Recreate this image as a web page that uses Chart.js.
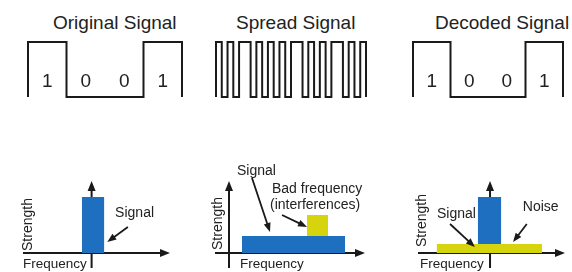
<!DOCTYPE html>
<html>
<head>
<meta charset="utf-8">
<script src="https://cdn.jsdelivr.net/npm/chart.js@4.4.1/dist/chart.umd.min.js"></script>
<style>
  body { margin: 0; width: 572px; height: 272px; background: #fff; position: relative; overflow: hidden;
         font-family: "Liberation Sans", Arial, sans-serif; }
  canvas { position: absolute; }
  .title { position: absolute; font-size: 19px; line-height: 20px; color: #222; white-space: nowrap; }
</style>
</head>
<body>
<div class="title" style="left:53px;top:13px">Original Signal</div>
<div class="title" style="left:236px;top:13px">Spread Signal</div>
<div class="title" style="left:435px;top:13px">Decoded Signal</div>

<canvas id="origWave" width="200" height="80" style="left:0;top:30px"></canvas>
<canvas id="spreadWave" width="190" height="80" style="left:200px;top:30px"></canvas>
<canvas id="decodedWave" width="182" height="80" style="left:390px;top:30px"></canvas>

<canvas id="origSpec" width="190" height="122" style="left:0;top:150px"></canvas>
<canvas id="spreadSpec" width="190" height="122" style="left:190px;top:150px"></canvas>
<canvas id="decodedSpec" width="192" height="122" style="left:380px;top:150px"></canvas>

<script>
// time domain
var originalBits = [1, 0, 0, 1];
var spreadChips = [1,0,1,0,1,1,0,1,0,1,0,1,0,1,1,0,1,0,1,0,1,1,0,1,0,1];
var decodedBits = [1, 0, 0, 1];
var bitLabels = ['1', '0', '0', '1'];

// frequency domain: [from, to, strength]
var originalSignal = [6.0, 8.3, 5.6];
var spreadSignal = [2.7, 13.0, 1.7];
var interference = [9.2, 11.3, 2.1];   // sits on top of the spread signal
var noise = [1.9, 12.65, 0.9];
var decodedSignal = [6.1, 8.5, 4.7];   // sits on top of the noise

var INK = '#1a1a1a';
var BLUE = '#1f6fc1';
var YELLOW = '#d6d40c';
var FONT = '"Liberation Sans", Arial, sans-serif';

Chart.defaults.animation = false;
Chart.defaults.plugins.legend.display = false;
Chart.defaults.plugins.tooltip.enabled = false;

// 0 -> level per bit -> 0, drawn as a stepped line
function stepPoints(levels) {
  var pts = [{x: 0, y: 0}];
  levels.forEach(function (v, i) { pts.push({x: i + 1, y: v}); });
  pts.push({x: levels.length, y: 0});
  return pts;
}

var bitLabelPlugin = {
  id: 'bitLabels',
  afterDatasetsDraw: function (chart, args, opts) {
    if (!opts.labels) return;
    var ctx = chart.ctx, x = chart.scales.x, y = chart.scales.y;
    ctx.save();
    ctx.font = '19px ' + FONT;
    ctx.fillStyle = '#222';
    ctx.textAlign = 'center';
    ctx.textBaseline = 'middle';
    opts.labels.forEach(function (t, i) {
      ctx.fillText(t, x.getPixelForValue(i + 0.5), y.getPixelForValue(opts.at));
    });
    ctx.restore();
  }
};

function waveChart(id, levels, labels) {
  return new Chart(document.getElementById(id), {
    type: 'line',
    data: {
      datasets: [{
        data: stepPoints(levels),
        stepped: 'after',
        borderColor: INK,
        borderWidth: 2,
        pointRadius: 0,
        clip: false
      }]
    },
    options: {
      responsive: false,
      layout: { padding: waveChart.pad[id] },
      scales: {
        x: { type: 'linear', display: false, min: 0, max: levels.length },
        y: { display: false, min: 0, max: 1 }
      },
      plugins: { bitLabels: { labels: labels, at: 0.27 } }
    },
    plugins: [bitLabelPlugin]
  });
}
waveChart.pad = {
  origWave: { left: 28, right: 18, top: 12, bottom: 13 },
  spreadWave: { left: 16, right: 24, top: 12, bottom: 13 },
  decodedWave: { left: 23, right: 9, top: 12, bottom: 13 }
};

waveChart('origWave', originalBits, bitLabels);
waveChart('spreadWave', spreadChips, null);
waveChart('decodedWave', decodedBits, bitLabels);

// --- spectrum panels ---
function arrowHead(ctx, x1, y1, x2, y2, len, half) {
  var a = Math.atan2(y2 - y1, x2 - x1);
  ctx.beginPath();
  ctx.moveTo(x2, y2);
  ctx.lineTo(x2 - len * Math.cos(a) + half * Math.sin(a), y2 - len * Math.sin(a) - half * Math.cos(a));
  ctx.lineTo(x2 - len * Math.cos(a) - half * Math.sin(a), y2 - len * Math.sin(a) + half * Math.cos(a));
  ctx.closePath();
  ctx.fill();
}

var spectrumPlugin = {
  id: 'spectrum',
  beforeDatasetsDraw: function (chart, args, opts) {
    var ctx = chart.ctx, x = chart.scales.x, y = chart.scales.y, a = chart.chartArea;
    var y0 = y.getPixelForValue(0), xa = x.getPixelForValue(opts.axisAt);
    ctx.save();
    ctx.strokeStyle = INK; ctx.fillStyle = INK; ctx.lineWidth = 2;
    ctx.beginPath();
    ctx.moveTo(a.left, y0); ctx.lineTo(a.right - 6, y0);
    ctx.moveTo(xa, a.bottom); ctx.lineTo(xa, a.top + 6);
    ctx.stroke();
    arrowHead(ctx, a.left, y0, a.right, y0, 10, 4);
    arrowHead(ctx, xa, a.bottom, xa, a.top, 10, 4);
    ctx.restore();
  },
  afterDatasetsDraw: function (chart, args, opts) {
    var ctx = chart.ctx, x = chart.scales.x, y = chart.scales.y;
    ctx.save();
    ctx.strokeStyle = INK; ctx.fillStyle = INK; ctx.lineWidth = 1.8;
    (opts.arrows || []).forEach(function (ar) {
      var x1 = x.getPixelForValue(ar[0][0]), y1 = y.getPixelForValue(ar[0][1]);
      var x2 = x.getPixelForValue(ar[1][0]), y2 = y.getPixelForValue(ar[1][1]);
      var ang = Math.atan2(y2 - y1, x2 - x1);
      ctx.beginPath();
      ctx.moveTo(x1, y1); ctx.lineTo(x2 - 6 * Math.cos(ang), y2 - 6 * Math.sin(ang));
      ctx.stroke();
      arrowHead(ctx, x1, y1, x2, y2, 9, 3.5);
    });
    ctx.fillStyle = '#222';
    ctx.textAlign = 'left';
    ctx.textBaseline = 'middle';
    (opts.notes || []).forEach(function (n) {
      ctx.save();
      ctx.font = (n.size || 14) + 'px ' + FONT;
      ctx.translate(x.getPixelForValue(n.x), y.getPixelForValue(n.y));
      if (n.rotate) ctx.rotate(-Math.PI / 2);
      ctx.fillText(n.text, 0, 0);
      ctx.restore();
    });
    ctx.restore();
  }
};

function band(b, base, color) {
  return {
    data: [{x: b[0], y: base + b[2]}, {x: b[1], y: base + b[2]}],
    fill: { value: base },
    backgroundColor: color,
    borderWidth: 0,
    pointRadius: 0
  };
}

function spectrumChart(id, datasets, pad, plug) {
  return new Chart(document.getElementById(id), {
    type: 'line',
    data: { datasets: datasets },
    options: {
      responsive: false,
      layout: { padding: pad },
      scales: {
        x: { type: 'linear', display: false, min: 0, max: 15 },
        y: { display: false, min: -1.5, max: 7.2 }
      },
      plugins: { spectrum: plug }
    },
    plugins: [spectrumPlugin]
  });
}

spectrumChart('origSpec',
  [band(originalSignal, 0, BLUE)],
  { left: 23, right: 20, top: 31, bottom: 4 },
  {
    axisAt: 7.0,
    notes: [
      { text: 'Strength', x: 0.5, y: 0.2, rotate: true },
      { text: 'Frequency', x: 0, y: -1.1, size: 13.5 },
      { text: 'Signal', x: 9.4, y: 4.0 }
    ],
    arrows: [[[10.7, 2.6], [8.6, 1.1]]]
  });

spectrumChart('spreadSpec',
  [band(interference, spreadSignal[2], YELLOW), band(spreadSignal, 0, BLUE)],
  { left: 25, right: 15, top: 31, bottom: 4 },
  {
    axisAt: 1.4,
    notes: [
      { text: 'Strength', x: 0.35, y: 0.3, rotate: true },
      { text: 'Frequency', x: 2.5, y: -1.1, size: 13.5 },
      { text: 'Signal', x: 2.2, y: 8.2 },
      { text: 'Bad frequency', x: 5.7, y: 6.4 },
      { text: '(interferences)', x: 5.5, y: 4.8 }
    ],
    arrows: [[[3.7, 7.5], [5.5, 2.1]], [[6.7, 3.8], [9.2, 2.6]]]
  });

spectrumChart('decodedSpec',
  [band(decodedSignal, noise[2], BLUE), band(noise, 0, YELLOW)],
  { left: 38, right: 7, top: 31, bottom: 4 },
  {
    axisAt: 7.35,
    notes: [
      { text: 'Strength', x: 0.46, y: 0.6, rotate: true },
      { text: 'Frequency', x: 0.2, y: -1.1, size: 13.5 },
      { text: 'Signal', x: 1.94, y: 3.9 },
      { text: 'Noise', x: 10.7, y: 4.6 }
    ],
    arrows: [[[3.27, 2.9], [5.8, 0.6]], [[11.1, 2.9], [9.7, 1.1]]]
  });
</script>
</body>
</html>
